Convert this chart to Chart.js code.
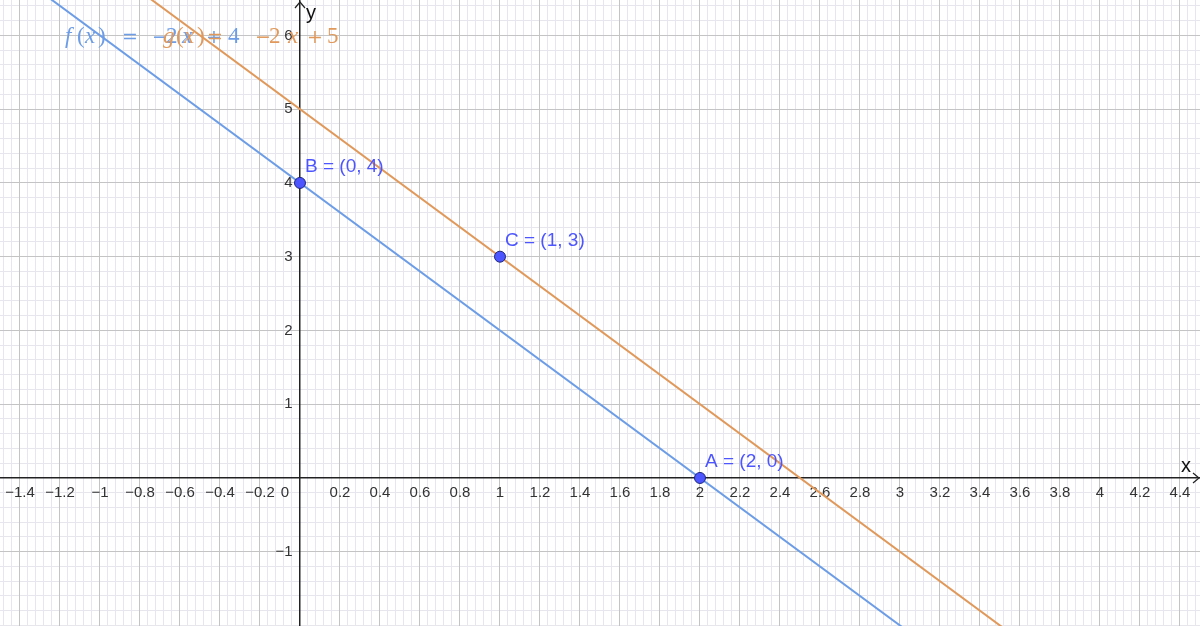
<!DOCTYPE html>
<html>
<head>
<meta charset="utf-8">
<script src="https://cdn.jsdelivr.net/npm/chart.js@4"></script>
<style>
  html, body { margin: 0; padding: 0; background: #fff; }
  #wrap { width: 1200px; height: 626px; }
</style>
</head>
<body>
<div id="wrap"><canvas id="graph" width="1200" height="626"></canvas></div>
<script>
// visible window, in graph units
const xRange = [-1.5, 4.5001];
const yRange = [-2.007, 6.48];
const xMajorStep = 0.2, xMinorStep = 0.04;
const yMajorStep = 1, yMinorStep = 0.2;

// f(x) = -2x + 4 and g(x) = -2x + 5, taken at the window edges
const lineX = [-1.5, 4.5];
const fY = [7, -5];
const gY = [8, -4];

// named points
const pointNames = ['A', 'B', 'C'];
const pointX = [2, 0, 1];
const pointY = [0, 4, 3];

const pointColor = '#4d55ff';
const fColor = '#6d9de6';
const gColor = '#e0995b';

function fmt(v) {
  const s = String(Math.round(v * 100) / 100);
  return s.replace('-', '\u2212');
}

function toXY(xs, ys) {
  return xs.map((x, i) => ({ x: x, y: ys[i] }));
}

// scales placed on the axes should not push the plot area inwards
function noPadding(scale) {
  scale.paddingTop = 0;
  scale.paddingBottom = 0;
  scale.paddingLeft = 0;
  scale.paddingRight = 0;
}

// arrows, axis names, point names and the function labels
const extras = {
  id: 'extras',
  beforeDatasetsDraw(chart) {
    const ctx = chart.ctx;
    // tokens: text, left x, kind (i = italic letter, n = digit/bracket, o = operator)
    const fTokens = [['f', 65, 'i'], ['(', 77, 'n'], ['x', 85, 'i'], [')', 98, 'n'],
      ['=', 122, 'o'], ['\u2212', 152, 'o'], ['2', 166, 'n'],
      ['x', 182, 'i'], ['+', 206, 'o'], ['4', 228, 'n']];
    const gTokens = [['g', 163, 'i'], ['(', 176, 'n'], ['x', 184, 'i'], [')', 197, 'n'],
      ['=', 207, 'o'], ['\u2212', 255, 'o'], ['2', 269, 'n'],
      ['x', 288, 'i'], ['+', 307, 'o'], ['5', 327, 'n']];
    const fonts = {
      i: 'italic 23px "Liberation Serif", serif',
      n: '23px "Liberation Serif", serif',
      o: '19px "DejaVu Serif", serif'
    };
    ctx.save();
    ctx.textBaseline = 'alphabetic';
    ctx.textAlign = 'left';
    const drawTokens = (tokens, color) => {
      ctx.fillStyle = color;
      tokens.forEach(t => {
        ctx.font = fonts[t[2]];
        ctx.fillText(t[0], t[1], 43);
      });
    };
    drawTokens(fTokens, fColor);
    drawTokens(gTokens, gColor);
    ctx.restore();
  },
  afterDatasetsDraw(chart) {
    const ctx = chart.ctx;
    const area = chart.chartArea;
    const ox = chart.scales.x.getPixelForValue(0);
    const oy = chart.scales.y.getPixelForValue(0);
    ctx.save();
    ctx.strokeStyle = '#222';
    ctx.lineWidth = 1.2;
    ctx.beginPath();
    ctx.moveTo(ox - 5, area.top + 8);
    ctx.lineTo(ox, area.top + 2);
    ctx.lineTo(ox + 5, area.top + 8);
    ctx.stroke();
    ctx.beginPath();
    ctx.moveTo(area.right - 7, oy - 5);
    ctx.lineTo(area.right - 1, oy);
    ctx.lineTo(area.right - 7, oy + 5);
    ctx.stroke();

    ctx.fillStyle = '#111';
    ctx.font = '20px "Liberation Sans", Arial, sans-serif';
    ctx.textBaseline = 'middle';
    ctx.textAlign = 'left';
    ctx.fillText('y', ox + 6, area.top + 13);
    ctx.fillText('x', area.right - 19, oy - 11);

    ctx.fillStyle = pointColor;
    ctx.font = '19px "Liberation Sans", Arial, sans-serif';
    const meta = chart.getDatasetMeta(0);
    meta.data.forEach((pt, i) => {
      ctx.fillText(pointNames[i] + ' = (' + pointX[i] + ', ' + pointY[i] + ')', pt.x + 5, pt.y - 16);
    });
    ctx.restore();
  }
};

const tickFont = { family: '"Liberation Sans", Arial, sans-serif', size: 15 };

new Chart(document.getElementById('graph'), {
  type: 'scatter',
  data: {
    datasets: [
      {
        label: 'points',
        data: toXY(pointX, pointY),
        backgroundColor: pointColor,
        borderColor: '#1c2580',
        borderWidth: 1,
        pointRadius: 5.5,
        showLine: false
      },
      {
        label: 'f',
        data: toXY(lineX, fY),
        showLine: true,
        borderColor: fColor,
        borderWidth: 2,
        pointRadius: 0
      },
      {
        label: 'g',
        data: toXY(lineX, gY),
        showLine: true,
        borderColor: gColor,
        borderWidth: 2,
        pointRadius: 0
      }
    ]
  },
  options: {
    responsive: false,
    animation: false,
    devicePixelRatio: 1,
    layout: { padding: 0, autoPadding: false },
    plugins: { legend: { display: false }, tooltip: { enabled: false } },
    scales: {
      xMinor: {
        type: 'linear', axis: 'x', position: 'bottom',
        min: xRange[0], max: xRange[1],
        afterFit: noPadding,
        ticks: { display: false, stepSize: xMinorStep, includeBounds: false, autoSkip: false },
        grid: { color: '#e6e6ec', lineWidth: 1, drawTicks: false, z: -2 },
        border: { display: false }
      },
      yMinor: {
        type: 'linear', axis: 'y', position: 'left',
        min: yRange[0], max: yRange[1],
        afterFit: noPadding,
        ticks: { display: false, stepSize: yMinorStep, includeBounds: false, autoSkip: false },
        grid: { color: '#e6e6ec', lineWidth: 1, drawTicks: false, z: -2 },
        border: { display: false }
      },
      x: {
        type: 'linear', position: { y: 0 },
        min: xRange[0], max: xRange[1],
        afterFit: noPadding,
        ticks: {
          stepSize: xMajorStep, includeBounds: false, autoSkip: false,
          maxRotation: 0, minRotation: 0, padding: 6,
          color: '#333', font: tickFont,
          callback: v => Math.abs(v) < 1e-9 ? '0\u2003\u2003' : fmt(v)
        },
        grid: { color: '#c4c4c4', lineWidth: 1, drawTicks: false, z: -1 },
        border: { display: true, color: '#222', width: 1.5 }
      },
      y: {
        type: 'linear', position: { x: 0 },
        min: yRange[0], max: yRange[1],
        afterFit: noPadding,
        ticks: {
          stepSize: yMajorStep, includeBounds: false, autoSkip: false,
          padding: 8, color: '#333', font: tickFont,
          callback: v => Math.abs(v) < 1e-9 ? '' : (v < -1.5 ? null : fmt(v) + '\u2002')
        },
        grid: { color: '#c4c4c4', lineWidth: 1, drawTicks: false, z: -1 },
        border: { display: true, color: '#222', width: 1.5 }
      }
    }
  },
  plugins: [extras]
});
</script>
</body>
</html>
